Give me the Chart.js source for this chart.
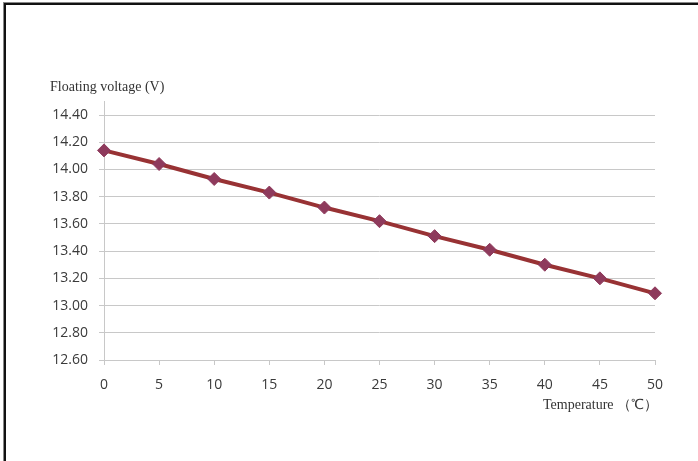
<!DOCTYPE html>
<html>
<head>
<meta charset="utf-8">
<script src="https://cdn.jsdelivr.net/npm/chart.js@4"></script>
<style>
  html, body { margin:0; padding:0; background:#fff; }
  #marco { position:absolute; left:4px; top:3px; width:720px; height:480px;
           border-left:2px solid #111; border-top:2px solid #111; box-shadow:-1px -1px 0 #888; }
  #lienzo { position:absolute; left:0; top:0; }
</style>
</head>
<body>
<div id="marco"></div>
<canvas id="lienzo" width="698" height="461"></canvas>
<script>
// datos
var temperaturas = [0, 5, 10, 15, 20, 25, 30, 35, 40, 45, 50];
var voltajes = [14.14, 14.04, 13.93, 13.83, 13.72, 13.62, 13.51, 13.41, 13.30, 13.20, 13.09];
var tituloY = 'Floating voltage (V)';
var tituloX = 'Temperature （℃）';

var puntos = [];
for (var i = 0; i < temperaturas.length; i++) {
    puntos.push({x: temperaturas[i], y: voltajes[i]});
}

// titulos y linea del eje vertical
var titulos = {
    id: 'titulos',
    afterDraw: function(c) {
        var ctx = c.ctx, area = c.chartArea;
        ctx.save();
        ctx.fillStyle = '#333';
        ctx.font = '14px "Liberation Serif", serif';
        ctx.textBaseline = 'middle';
        ctx.fillText(tituloY, 50, 87);
        ctx.fillText(tituloX, 543, 405);
        ctx.restore();
    },
    beforeDatasetsDraw: function(c) {
        var ctx = c.ctx, area = c.chartArea;
        ctx.save();
        ctx.strokeStyle = '#c8c8c8';
        ctx.lineWidth = 1;
        ctx.beginPath();
        ctx.moveTo(area.left + 0.5, area.top - 14);
        ctx.lineTo(area.left + 0.5, area.bottom);
        ctx.stroke();
        ctx.restore();
    }
};

var ctx = document.getElementById('lienzo').getContext('2d');
var chart = new Chart(ctx, {
    type: 'line',
    data: {
        datasets: [{
            data: puntos,
            borderColor: '#983234',
            borderWidth: 4,
            pointStyle: 'rectRot',
            pointRadius: 6.5,
            pointBackgroundColor: '#8e3a5c',
            pointBorderColor: '#8e3a5c',
            pointBorderWidth: 1,
            fill: false,
            tension: 0,
            clip: false
        }]
    },
    options: {
        responsive: false,
        animation: false,
        layout: { padding: { top: 115, right: 43, left: 0, bottom: 0 } },
        plugins: { legend: { display: false }, tooltip: { enabled: false } },
        scales: {
            x: {
                type: 'linear', min: 0, max: 50,
                afterFit: function(s) { s.height = 101; },
                ticks: { stepSize: 5, padding: 12, color: '#3a3a3a',
                         font: { family: '"Open Sans", sans-serif', size: 14 } },
                grid: { drawOnChartArea: false, drawTicks: true, tickLength: 5, color: '#c8c8c8' },
                border: { color: '#c8c8c8' }
            },
            y: {
                min: 12.6, max: 14.4,
                afterFit: function(s) { s.width = 104; },
                ticks: { stepSize: 0.2, padding: 11, color: '#3a3a3a',
                         font: { family: '"Open Sans", sans-serif', size: 14 },
                         callback: function(v) { return v.toFixed(2); } },
                grid: { color: '#c8c8c8', tickLength: 5 },
                border: { display: false }
            }
        }
    },
    plugins: [titulos]
});
</script>
</body>
</html>
